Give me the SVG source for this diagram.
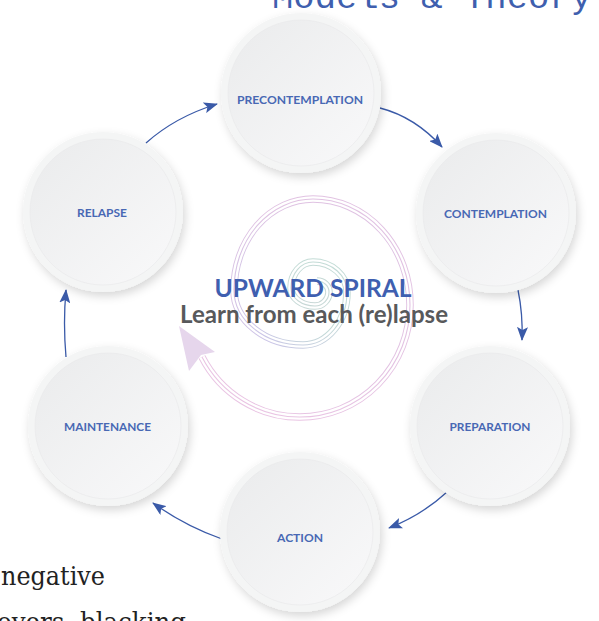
<svg xmlns="http://www.w3.org/2000/svg" width="599" height="621" viewBox="0 0 599 621">
<defs>
<style>
.lbl{font-family:Lato,"Open Sans","Liberation Sans",sans-serif;font-weight:700;font-size:11.5px;fill:#4868b4;text-anchor:middle}
.ring{fill:#f4f5f5}
.disk{fill:url(#dg);stroke:#e7e8e9;stroke-width:0.6}
.conn{fill:none;stroke:#3a5aa8;stroke-width:1.3}
.sp1{fill:none;stroke:url(#sg);stroke-width:7.5}
.sp2{fill:none;stroke:#fff;stroke-width:5.6}
.sp3{fill:none;stroke:url(#sg);stroke-width:1.1}
</style>
<linearGradient id="dg" x1="0" y1="0" x2="1" y2="1">
<stop offset="0" stop-color="#eaebec"/>
<stop offset="1" stop-color="#f9f9fa"/>
</linearGradient>
<radialGradient id="sg" gradientUnits="userSpaceOnUse" cx="312" cy="295" r="125">
<stop offset="0" stop-color="#c9d6d6"/>
<stop offset="0.3" stop-color="#c3dcd6"/>
<stop offset="0.5" stop-color="#cac5e7"/>
<stop offset="0.75" stop-color="#e0c2e2"/>
<stop offset="1" stop-color="#e9c4e3"/>
</radialGradient>
<filter id="sh" x="-20%" y="-20%" width="140%" height="140%">
<feDropShadow dx="2" dy="4" stdDeviation="5" flood-color="#000" flood-opacity="0.16"/>
</filter>
<marker id="ah" markerUnits="userSpaceOnUse" markerWidth="15" markerHeight="11" refX="13" refY="5.5" orient="auto">
<path d="M0,0 L14,5.5 L0,11 L3,5.5 Z" fill="#3a5aa8"/>
</marker>
</defs>
<rect width="599" height="621" fill="#fff"/>

<text x="272" y="7.5" font-family="'Liberation Mono','DejaVu Sans Mono',monospace" font-size="35" fill="#3f5fae" textLength="320" lengthAdjust="spacingAndGlyphs">Models &amp; Theory</text>

<text x="1" y="585" font-family="'DejaVu Serif','Liberation Serif',serif" font-size="26" fill="#222" textLength="104" lengthAdjust="spacingAndGlyphs">negative</text>
<text x="-3" y="631" font-family="'DejaVu Serif','Liberation Serif',serif" font-size="26" fill="#222" textLength="189" lengthAdjust="spacingAndGlyphs">overs, blacking</text>

<g id="spiral">
<path class="sp1" d="M317,281 A12,11 0 0 1 329,292 A14,14 0 0 1 315,306 A24,18 0 0 1 291,288 A22,26 0 0 1 313,262 A34,30 0 0 1 347,292 A44,53 0 0 1 303,345 A69,55 0 0 1 234,290 A79,91 0 0 1 313,199 A97,106 0 0 1 410,305 A110,112 0 0 1 300,417 A110,112 0 0 1 202,357"/>
<path class="sp2" d="M317,281 A12,11 0 0 1 329,292 A14,14 0 0 1 315,306 A24,18 0 0 1 291,288 A22,26 0 0 1 313,262 A34,30 0 0 1 347,292 A44,53 0 0 1 303,345 A69,55 0 0 1 234,290 A79,91 0 0 1 313,199 A97,106 0 0 1 410,305 A110,112 0 0 1 300,417 A110,112 0 0 1 202,357"/>
<path class="sp3" d="M317,281 A12,11 0 0 1 329,292 A14,14 0 0 1 315,306 A24,18 0 0 1 291,288 A22,26 0 0 1 313,262 A34,30 0 0 1 347,292 A44,53 0 0 1 303,345 A69,55 0 0 1 234,290 A79,91 0 0 1 313,199 A97,106 0 0 1 410,305 A110,112 0 0 1 300,417 A110,112 0 0 1 202,357"/>
<path d="M179,326 L215,352 L201,355 L189,371 Z" fill="#e6d6ec"/>
</g>

<g id="center-text">
<text x="313" y="297" font-family="Lato,'Open Sans','Liberation Sans',sans-serif" font-weight="700" font-size="25.5" fill="#3f5fb0" text-anchor="middle" textLength="197" lengthAdjust="spacingAndGlyphs">UPWARD SPIRAL</text>
<text x="314" y="322.5" font-family="Lato,'Open Sans','Liberation Sans',sans-serif" font-weight="700" font-size="24.5" fill="#58595b" text-anchor="middle" textLength="268" lengthAdjust="spacingAndGlyphs">Learn from each (re)lapse</text>
</g>

<g id="connectors">
<path class="conn" d="M146,143 Q175,117 217,104" marker-end="url(#ah)"/>
<path class="conn" d="M380,108 Q415,117 442,147" marker-end="url(#ah)"/>
<path class="conn" d="M518,290 Q523,314 522,340" marker-end="url(#ah)"/>
<path class="conn" d="M447,492 Q422,515 389,528" marker-end="url(#ah)"/>
<path class="conn" d="M222,539 Q185,526 153,503" marker-end="url(#ah)"/>
<path class="conn" d="M66,357 Q63,323 66,290" marker-end="url(#ah)"/>
</g>

<g id="precontemplation">
<circle class="ring" cx="301" cy="93" r="80" filter="url(#sh)"/>
<circle class="disk" cx="301" cy="93" r="73"/>
<text class="lbl" x="300" y="104" textLength="126" lengthAdjust="spacingAndGlyphs">PRECONTEMPLATION</text>
</g>
<g id="contemplation">
<circle class="ring" cx="496" cy="213" r="80" filter="url(#sh)"/>
<circle class="disk" cx="496" cy="213" r="73"/>
<text class="lbl" x="495.5" y="218" textLength="103" lengthAdjust="spacingAndGlyphs">CONTEMPLATION</text>
</g>
<g id="preparation">
<circle class="ring" cx="490" cy="426" r="80" filter="url(#sh)"/>
<circle class="disk" cx="490" cy="426" r="73"/>
<text class="lbl" x="490" y="431" textLength="81" lengthAdjust="spacingAndGlyphs">PREPARATION</text>
</g>
<g id="action">
<circle class="ring" cx="300" cy="532" r="80" filter="url(#sh)"/>
<circle class="disk" cx="300" cy="532" r="73"/>
<text class="lbl" x="300" y="542" textLength="46" lengthAdjust="spacingAndGlyphs">ACTION</text>
</g>
<g id="maintenance">
<circle class="ring" cx="108" cy="426" r="80" filter="url(#sh)"/>
<circle class="disk" cx="108" cy="426" r="73"/>
<text class="lbl" x="107.5" y="431" textLength="87" lengthAdjust="spacingAndGlyphs">MAINTENANCE</text>
</g>
<g id="relapse">
<circle class="ring" cx="103" cy="212" r="80" filter="url(#sh)"/>
<circle class="disk" cx="103" cy="212" r="73"/>
<text class="lbl" x="102" y="217" textLength="50" lengthAdjust="spacingAndGlyphs">RELAPSE</text>
</g>
</svg>
